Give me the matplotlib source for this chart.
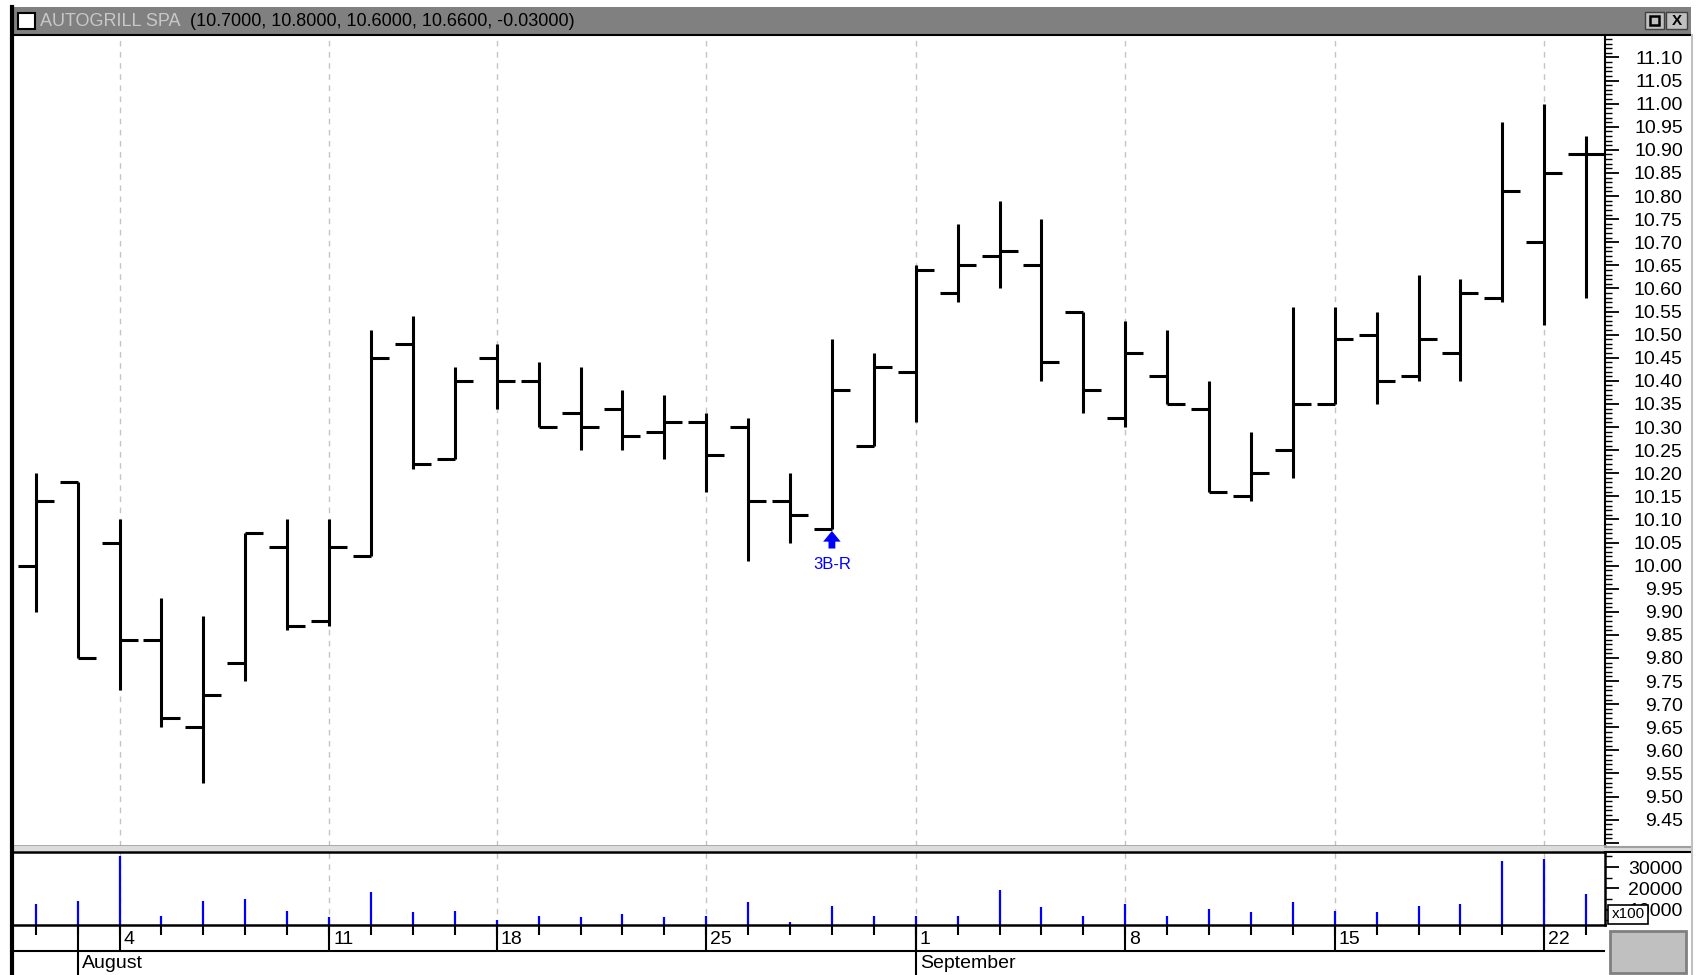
import numpy as np
import pandas as pd
import matplotlib
matplotlib.use("Agg")
import matplotlib.pyplot as plt
from matplotlib.patches import Rectangle
from matplotlib.lines import Line2D
from matplotlib.ticker import MultipleLocator, FixedLocator, FuncFormatter

plt.rcParams["font.family"] = ["Liberation Sans", "DejaVu Sans"]

# trading days shown on the chart (Aug 15 is a holiday)
dates = ["2003-07-31", "2003-08-01",
         "2003-08-04", "2003-08-05", "2003-08-06", "2003-08-07", "2003-08-08",
         "2003-08-11", "2003-08-12", "2003-08-13", "2003-08-14",
         "2003-08-18", "2003-08-19", "2003-08-20", "2003-08-21", "2003-08-22",
         "2003-08-25", "2003-08-26", "2003-08-27", "2003-08-28", "2003-08-29",
         "2003-09-01", "2003-09-02", "2003-09-03", "2003-09-04", "2003-09-05",
         "2003-09-08", "2003-09-09", "2003-09-10", "2003-09-11", "2003-09-12",
         "2003-09-15", "2003-09-16", "2003-09-17", "2003-09-18", "2003-09-19",
         "2003-09-22", "2003-09-23"]

opens = [10.00, 10.18, 10.05, 9.84, 9.65, 9.79, 10.04, 9.88, 10.02, 10.48,
         10.23, 10.45, 10.40, 10.33, 10.34, 10.29, 10.31, 10.30, 10.14, 10.08,
         10.26, 10.42, 10.59, 10.67, 10.65, 10.55, 10.32, 10.41, 10.34, 10.15,
         10.25, 10.35, 10.50, 10.41, 10.46, 10.58, 10.70, 10.89]
highs = [10.20, 10.18, 10.10, 9.93, 9.89, 10.07, 10.10, 10.10, 10.51, 10.54,
         10.43, 10.48, 10.44, 10.43, 10.38, 10.37, 10.33, 10.32, 10.20, 10.49,
         10.46, 10.65, 10.74, 10.79, 10.75, 10.55, 10.53, 10.51, 10.40, 10.29,
         10.56, 10.56, 10.55, 10.63, 10.62, 10.96, 11.00, 10.93]
lows = [9.90, 9.80, 9.73, 9.65, 9.53, 9.75, 9.86, 9.87, 10.02, 10.21,
        10.23, 10.34, 10.30, 10.25, 10.25, 10.23, 10.16, 10.01, 10.05, 10.08,
        10.26, 10.31, 10.57, 10.60, 10.40, 10.33, 10.30, 10.35, 10.16, 10.14,
        10.19, 10.35, 10.35, 10.40, 10.40, 10.57, 10.52, 10.58]
closes = [10.14, 9.80, 9.84, 9.67, 9.72, 10.07, 9.87, 10.04, 10.45, 10.22,
          10.40, 10.40, 10.30, 10.30, 10.28, 10.31, 10.24, 10.14, 10.11, 10.38,
          10.43, 10.64, 10.65, 10.68, 10.44, 10.38, 10.46, 10.35, 10.16, 10.20,
          10.35, 10.49, 10.40, 10.49, 10.59, 10.81, 10.85, 10.89]
volumes = [12500, 14100, 35300, 7200, 14100, 14900, 9600, 6400, 18500, 8800,
           9600, 5200, 7200, 6400, 8000, 6400, 7000, 13500, 4400, 11900,
           7200, 7200, 7200, 19300, 11100, 7200, 12700, 7200, 10300, 8800,
           13500, 9600, 8800, 11900, 12700, 32900, 33700, 17200]

title_name = "AUTOGRILL SPA"
title_vals = "(10.7000, 10.8000, 10.6000, 10.6600, -0.03000)"
signal_day = "2003-08-28"
signal_text = "3B-R"

dates = pd.to_datetime(dates)
x = np.arange(len(dates))
mondays = x[np.asarray(dates.dayofweek) == 0]
months = np.asarray(dates.month)
month_starts = x[1:][months[1:] != months[:-1]]
sig = int(np.where(dates == pd.Timestamp(signal_day))[0][0])

W, H = 1700, 975


def box(x0, y0, x1, y1):
    return [x0 / W, 1 - y1 / H, (x1 - x0) / W, (y1 - y0) / H]


fig = plt.figure(figsize=(17, 9.75), dpi=100)
fig.patch.set_facecolor("white")

xlim = (-0.52, 37.45)
grid_kw = dict(color="#c4c4c4", lw=1, ls=(0, (4, 4)), zorder=0)

# price panel
ax = fig.add_axes(box(14, 36, 1605, 846))
ax.set_xlim(xlim)
ax.set_ylim(9.393, 11.1465)
for m in mondays:
    ax.axvline(m, **grid_kw)
ax.vlines(x, lows, highs, color="black", lw=2.2)
ax.hlines(opens, x - 0.43, x, color="black", lw=2.2)
ax.hlines(closes, x, x + 0.43, color="black", lw=2.2)

ax.annotate("", xy=(sig, lows[sig] - 0.005), xytext=(sig, lows[sig] - 0.043),
            arrowprops=dict(
                arrowstyle="simple,head_length=0.55,head_width=0.9,tail_width=0.35",
                facecolor="#0000ff", edgecolor="none", mutation_scale=14,
                shrinkA=0, shrinkB=0))
ax.text(sig, lows[sig] - 0.078, signal_text, color="#0000ff", fontsize=12,
        ha="center", va="center")

ax.set_xticks([])
ax.yaxis.tick_right()
ax.yaxis.set_major_locator(MultipleLocator(0.05))
ax.yaxis.set_minor_locator(MultipleLocator(0.01))
ax.yaxis.set_major_formatter(FuncFormatter(
    lambda v, p: f"{v:.2f}" if 9.44 < v < 11.11 else ""))
ax.tick_params(axis="y", which="major", length=10, width=1.3, direction="out",
               labelsize=14, pad=46)
ax.tick_params(axis="y", which="minor", length=5, width=1, direction="out")
for lbl in ax.yaxis.get_majorticklabels():
    lbl.set_horizontalalignment("right")
for s in ["left", "top"]:
    ax.spines[s].set_visible(False)
ax.spines["bottom"].set_color("#a0a0a0")
ax.spines["bottom"].set_linewidth(2)
ax.spines["right"].set_linewidth(1.5)

# volume panel
axv = fig.add_axes(box(14, 852, 1605, 925))
axv.set_xlim(xlim)
axv.set_ylim(2800, 37100)
for m in mondays:
    axv.axvline(m, **grid_kw)
axv.vlines(x, 0, volumes, color="#0000ff", lw=1.6)
axv.set_xticks(x)
axv.tick_params(axis="x", length=7, width=1.5, direction="out",
                labelbottom=False)
axv.yaxis.tick_right()
axv.yaxis.set_major_locator(FixedLocator([10000, 20000, 30000]))
axv.yaxis.set_minor_locator(MultipleLocator(5000))
axv.yaxis.set_major_formatter(FuncFormatter(lambda v, p: f"{v:.0f}"))
axv.tick_params(axis="y", which="major", length=10, width=1.3, direction="out",
                labelsize=14, pad=46)
axv.tick_params(axis="y", which="minor", length=5, width=1, direction="out")
for lbl in axv.yaxis.get_majorticklabels():
    lbl.set_horizontalalignment("right")
axv.spines["left"].set_visible(False)
for s in ["top", "bottom", "right"]:
    axv.spines[s].set_linewidth(1.8)

# date rows
axd = fig.add_axes(box(14, 925, 1605, 975))
axd.set_xlim(xlim)
axd.set_ylim(975, 925)
axd.axis("off")
axd.axhline(951, color="black", lw=1.5)
axd.vlines(mondays, 925, 951, color="black", lw=1.5)
axd.vlines(month_starts, 925, 975, color="black", lw=1.5)
for m in mondays:
    axd.text(m + 0.1, 939, str(dates[m].day), fontsize=14, ha="left",
             va="center")
for m in month_starts:
    axd.text(m + 0.1, 964, dates[m].strftime("%B"), fontsize=14, ha="left",
             va="center")

# window chrome
tf = fig.transFigure
def frect(x0, y0, x1, y1, **kw):
    fig.add_artist(Rectangle((x0 / W, 1 - y1 / H), (x1 - x0) / W,
                             (y1 - y0) / H, transform=tf, **kw))

frect(14, 7, 1691, 34, facecolor="#808080", edgecolor="none")
fig.add_artist(Line2D([14 / W, 1691 / W], [1 - 35 / H, 1 - 35 / H],
                      transform=tf, color="black", lw=1.5))
frect(18, 13, 35, 29, facecolor="white", edgecolor="black", lw=1.5)
fig.text(40 / W, 1 - 21 / H, title_name, color="#c8c8c8", fontsize=13,
         va="center", ha="left")
fig.text(190 / W, 1 - 21 / H, title_vals, color="black", fontsize=13,
         va="center", ha="left")
frect(1645, 12, 1664, 29, facecolor="#c0c0c0", edgecolor="#404040", lw=1)
frect(1650, 16, 1659, 25, facecolor="none", edgecolor="black", lw=1.8)
frect(1666, 12, 1687, 29, facecolor="#c0c0c0", edgecolor="#404040", lw=1)
fig.text(1676.5 / W, 1 - 21 / H, "X", fontsize=11, fontweight="bold",
         ha="center", va="center")

# separator between panels
frect(14, 846, 1691, 851, facecolor="#dcdcdc", edgecolor="none")
fig.add_artist(Line2D([1605 / W, 1691 / W], [1 - 852 / H, 1 - 852 / H],
                      transform=tf, color="black", lw=1.5))
fig.add_artist(Line2D([1605 / W, 1691 / W], [1 - 847 / H, 1 - 847 / H],
                      transform=tf, color="#a0a0a0", lw=1.5))

# left and right borders
fig.add_artist(Line2D([12 / W, 12 / W], [0, 1 - 7 / H], transform=tf,
                      color="black", lw=3))
fig.add_artist(Line2D([1692 / W, 1692 / W], [0, 1 - 35 / H], transform=tf,
                      color="#c0c0c0", lw=1.5))

# x100 box and corner box
frect(1608, 905, 1648, 924, facecolor="white", edgecolor="black", lw=1.2)
fig.text(1628 / W, 1 - 914.5 / H, "x100", fontsize=11, ha="center",
         va="center")
frect(1610, 931, 1686, 973, facecolor="#c0c0c0", edgecolor="#808080", lw=2)

fig.savefig("out.png", dpi=100)
